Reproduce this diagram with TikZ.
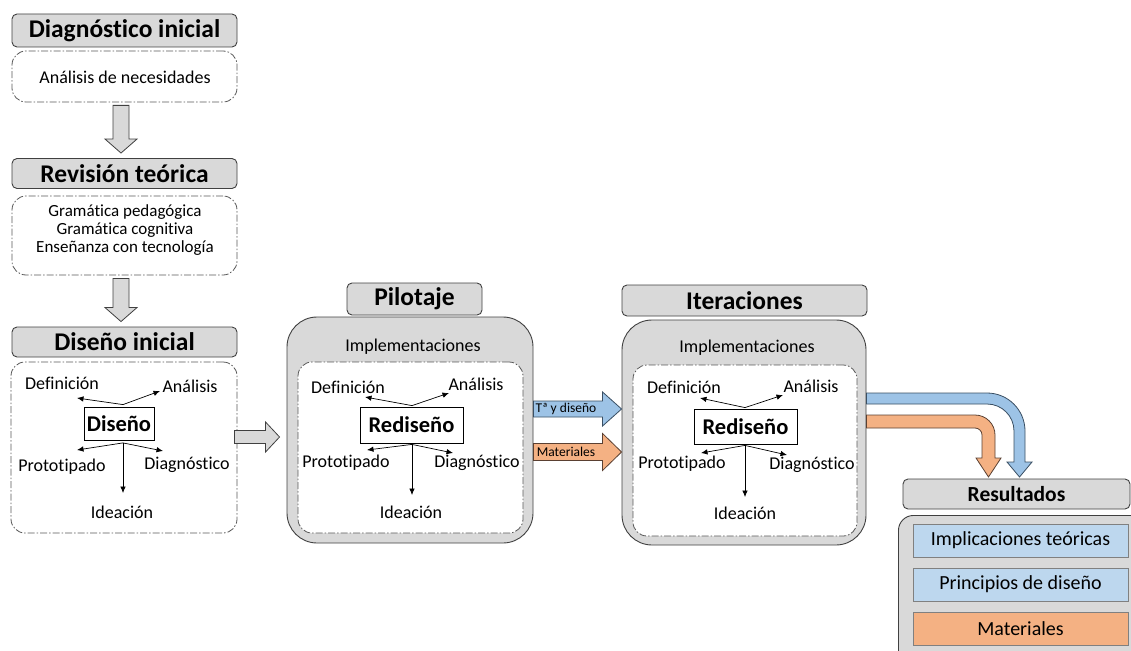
\documentclass[tikz,border=0pt]{standalone}
\usepackage{fontspec}
\setmainfont{Carlito}[Ligatures=NoCommon]
\usetikzlibrary{arrows.meta,calc}

\definecolor{boxgray}{HTML}{D9D9D9}
\definecolor{edgegray}{HTML}{404040}
\definecolor{dashgray}{HTML}{595959}
\definecolor{arrblue}{HTML}{9DC3E6}
\definecolor{arrblueedge}{HTML}{3A4F63}
\definecolor{paleblue}{HTML}{BDD7EE}
\definecolor{arrorange}{HTML}{F4B183}
\definecolor{arrorangeedge}{HTML}{5A4032}

\tikzset{
  hdr/.style={draw=edgegray, fill=boxgray, rounded corners=5pt, line width=0.9pt,
    inner sep=0pt, font=\fontsize{25.5}{28}\selectfont\bfseries},
  ddbox/.style={draw=dashgray, fill=white, rounded corners=14pt, line width=0.8pt,
    dash pattern=on 7pt off 2pt on 1.5pt off 2pt},
  panel/.style={draw=edgegray, fill=boxgray, line width=0.9pt},
  core/.style={draw=black, fill=white, line width=0.8pt, inner sep=0pt,
    font=\fontsize{22.5}{26}\selectfont\bfseries},
  lbl/.style={inner sep=0pt, font=\fontsize{18}{21.5}\selectfont},
  small/.style={inner sep=0pt, font=\fontsize{17}{20}\selectfont},
  spoke/.style={-{Latex[length=6.5pt,width=5.5pt]}, line width=0.7pt},
  blk/.style={draw=edgegray, fill=boxgray, line width=0.8pt},
  bluearr/.style={draw=arrblueedge, fill=arrblue, line width=0.8pt},
  orangearr/.style={draw=arrorangeedge, fill=arrorange, line width=0.8pt},
  result/.style={draw=gray, line width=0.6pt, inner sep=0pt,
    minimum width=215pt, minimum height=33pt, font=\fontsize{20}{24}\selectfont},
  tag/.style={inner sep=0pt, font=\fontsize{13.5}{16}\selectfont}
}

% gray block arrow pointing down, from the bottom of #1 to the top of #2
\newcommand\downblock[2]{%
  \draw[blk] let \p1=(#1.south), \p2=(#2.north) in
    (\x1-11.5pt,\y1-3pt) -- (\x1+4.5pt,\y1-3pt) -- (\x1+4.5pt,\y2+19pt)
    -- (\x1+12.5pt,\y2+19pt) -- (\x1-3.5pt,\y2+5pt) -- (\x1-19.5pt,\y2+19pt)
    -- (\x1-11.5pt,\y2+19pt) -- cycle;}

\begin{document}
\begin{tikzpicture}[x=1pt,y=-1pt]
\useasboundingbox (0,0) rectangle (1131,650);

% ---------- left column ----------
\node[hdr, minimum width=225pt, minimum height=33pt] (h1) at (124.5,30.5) {Diagnóstico inicial};
\node[ddbox, minimum width=225pt, minimum height=51pt] (b1) at (124.5,76.5) {};
\node[lbl] (need) at (125,77) {Análisis de necesidades};

\node[hdr, minimum width=225pt, minimum height=30pt] (h2) at (124.5,173.5) {Revisión teórica};
\node[ddbox, minimum width=225pt, minimum height=79pt] (b2) at (124.5,235.5) {};
\node[small] (t1) at (125,212) {Gramática pedagógica};
\node[small] (t2) at (125,230) {Gramática cognitiva};
\node[small] (t3) at (125,248.5) {Enseñanza con tecnología};

\node[hdr, minimum width=225pt, minimum height=30pt] (h3) at (124.5,342) {Diseño inicial};
\node[ddbox, minimum width=226pt, minimum height=171pt] (b3) at (124,447.5) {};

\downblock{b1}{h2}
\downblock{b2}{h3}

% design cycle, first version
\node[core, minimum width=70pt, minimum height=33pt] (dz) at (119,423.5) {Diseño};
\node[lbl] (dzdef) at (62,383) {Definición};
\node[lbl] (dzana) at (190,386) {Análisis};
\node[lbl] (dzpro) at (62,467) {Prototipado};
\node[lbl] (dzdia) at (187,465) {Diagnóstico};
\node[lbl] (dzide) at (122,512) {Ideación};
\coordinate (dzt) at ($(dz.north)+(4,-2)$);
\coordinate (dzb) at ($(dz.south)+(4,2.5)$);
\coordinate (dzdefe) at (77,398);
\coordinate (dzanae) at (160,391);
\coordinate (dzproe) at (77,450);
\coordinate (dzdiae) at (163,451);
\coordinate (dzidee) at (123,493);
\draw[spoke] (dzt) -- (dzdefe);
\draw[spoke] (dzt) -- (dzanae);
\draw[spoke] (dzb) -- (dzproe);
\draw[spoke] (dzb) -- (dzdiae);
\draw[spoke] (dzb) -- (dzidee);

% ---------- pilot ----------
\node[panel, rounded corners=30pt, minimum width=246pt, minimum height=226pt] (p1) at (410,430) {};
\node[hdr, minimum width=135pt, minimum height=32pt] (hp) at (414.5,299) {Pilotaje};
\node[lbl] (imp1) at (413,347) {Implementaciones};
\node[ddbox, minimum width=225pt, minimum height=171pt] (in1) at (410.5,447.5) {};

\node[core, minimum width=103pt, minimum height=36pt] (rp) at (411.5,425) {Rediseño};
\node[lbl] (rpdef) at (348,387) {Definición};
\node[lbl] (rpana) at (476,384) {Análisis};
\node[lbl] (rppro) at (346,463) {Prototipado};
\node[lbl] (rpdia) at (477,463) {Diagnóstico};
\node[lbl] (rpide) at (411,512) {Ideación};
\coordinate (rpt) at ($(rp.north)+(0.5,-1)$);
\coordinate (rpb) at ($(rp.south)+(0.5,1)$);
\coordinate (rpdefe) at (365,397);
\coordinate (rpanae) at (449,393);
\coordinate (rpproe) at (367,450);
\coordinate (rpdiae) at (453,453);
\coordinate (rpidee) at (412,495);
\draw[spoke] (rpt) -- (rpdefe);
\draw[spoke] (rpt) -- (rpanae);
\draw[spoke] (rpb) -- (rpproe);
\draw[spoke] (rpb) -- (rpdiae);
\draw[spoke] (rpb) -- (rpidee);

% gray arrow from the initial design to the pilot
\draw[blk] let \p1=(b3.east |- 0,437), \p2=(p1.west |- 0,437) in
  (\x1-3pt,\y1+6.5pt) -- (\x2-21pt,\y1+6.5pt) -- (\x2-21pt,\y1+15pt) -- (\x2-7pt,\y1)
  -- (\x2-21pt,\y1-15pt) -- (\x2-21pt,\y1-6.5pt) -- (\x1-3pt,\y1-6.5pt) -- cycle;

% ---------- iterations ----------
\node[panel, rounded corners=30pt, minimum width=244pt, minimum height=225pt] (it) at (744,432.5) {};
\node[hdr, minimum width=245pt, minimum height=31pt] (hi) at (744.5,300.5) {Iteraciones};
\node[lbl] (imp2) at (747,348) {Implementaciones};
\node[ddbox, minimum width=224pt, minimum height=171pt] (in2) at (745,450.5) {};

\node[core, minimum width=103pt, minimum height=35pt] (ri) at (745.5,426.5) {Rediseño};
\node[lbl] (ridef) at (684,387) {Definición};
\node[lbl] (riana) at (811,386) {Análisis};
\node[lbl] (ripro) at (682,464) {Prototipado};
\node[lbl] (ridia) at (812,465) {Diagnóstico};
\node[lbl] (riide) at (745,513) {Ideación};
\coordinate (rit) at ($(ri.north)+(-0.5,-1)$);
\coordinate (rib) at ($(ri.south)+(-0.5,1)$);
\coordinate (ridefe) at (700,398);
\coordinate (rianae) at (783,395);
\coordinate (riproe) at (701,453);
\coordinate (ridiae) at (787,455);
\coordinate (riidee) at (745,497);
\draw[spoke] (rit) -- (ridefe);
\draw[spoke] (rit) -- (rianae);
\draw[spoke] (rib) -- (riproe);
\draw[spoke] (rib) -- (ridiae);
\draw[spoke] (rib) -- (riidee);

% coloured arrows from the pilot to the iterations
\draw[bluearr] let \p1=(p1.east |- 0,409), \p2=(it.west |- 0,409) in
  (\x1,\y1+8pt) -- (\x2-19pt,\y1+8pt) -- (\x2-19pt,\y1+17pt) -- (\x2,\y1)
  -- (\x2-19pt,\y1-17pt) -- (\x2-19pt,\y1-8pt) -- (\x1,\y1-8pt) -- cycle;
\node[tag] (tagA) at (566,409) {Tª y diseño};
\draw[orangearr] let \p1=(p1.east |- 0,452), \p2=(it.west |- 0,452) in
  (\x1,\y1+8.5pt) -- (\x2-19pt,\y1+8.5pt) -- (\x2-19pt,\y1+18.5pt) -- (\x2,\y1)
  -- (\x2-19pt,\y1-18.5pt) -- (\x2-19pt,\y1-8.5pt) -- (\x1,\y1-8.5pt) -- cycle;
\node[tag] (tagB) at (566,452) {Materiales};

% ---------- results ----------
\node[panel, rounded corners=15pt, minimum width=250pt, minimum height=150pt, anchor=north west] (rs) at (898,515) {};
\node[hdr, minimum width=227pt, minimum height=30pt, font=\fontsize{21.5}{25}\selectfont\bfseries] (hr) at (1016.5,494) {Resultados};
\node[result, fill=paleblue] (r1) at (1020.5,540.5) {Implicaciones teóricas};
\node[result, fill=paleblue] (r2) at (1020.5,584.5) {Principios de diseño};
\node[result, fill=arrorange] (r3) at (1020.5,628.5) {Materiales};

% bent arrows from the iterations down to the results
\draw[bluearr] (it.east |- 0,393) -- (987,393) arc[start angle=90, end angle=0, radius=38pt]
  -- (1025,462) -- (1032,462) -- (1019.5,477) -- (1007,462) -- (1014,462) -- (1014,431)
  arc[start angle=0, end angle=90, radius=27pt] -- (it.east |- 0,404) -- cycle;
\draw[orangearr] (it.east |- 0,415) -- (975,415) arc[start angle=90, end angle=0, radius=20pt]
  -- (995,458) -- (1001,458) -- (988.5,477) -- (976,458) -- (982,458) -- (982,435)
  arc[start angle=0, end angle=90, radius=7pt] -- (it.east |- 0,428) -- cycle;
\end{tikzpicture}
\end{document}
